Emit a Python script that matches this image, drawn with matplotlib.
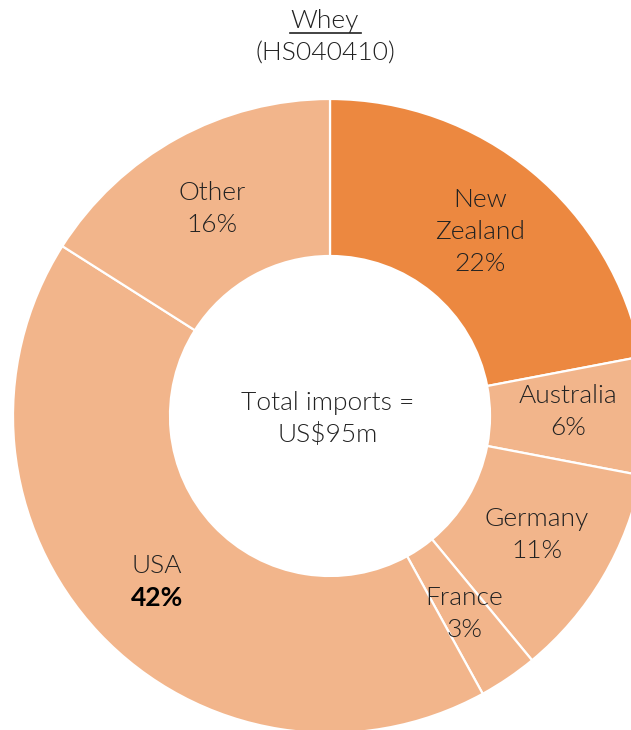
import matplotlib.pyplot as plt

# Whey import shares by origin, per cent of total
countries = ['New\nZealand', 'Australia', 'Germany', 'France', 'USA', 'Other']
shares = [22, 6, 11, 3, 42, 16]
total_imports = 95  # US$ million

dark = '#EC8840'
light = '#F2B58B'
colors = [dark] + [light] * (len(shares) - 1)

plt.rcParams['font.family'] = ['Lato', 'DejaVu Sans']
txt = '#222222'
fs = 19

fig = plt.figure(figsize=(6.31, 7.30), dpi=100)
ax = fig.add_axes([0, 0, 1, 1])

# work in pixel units so the ring sits where it should
cx, cy, r_out, r_in = 330, 730 - 416, 317, 160
ax.pie(shares, colors=colors, startangle=90, counterclock=False,
       center=(cx, cy), radius=r_out,
       wedgeprops=dict(width=r_out - r_in, edgecolor='white', linewidth=1.6))
ax.set_xlim(0, 631)
ax.set_ylim(0, 730)
ax.set_aspect('equal')
ax.axis('off')

def px(x, y, s, **kw):
    kw.setdefault('color', txt)
    kw.setdefault('fontsize', fs)
    kw.setdefault('fontweight', 300)
    ax.text(x, 730 - y, s, ha='center', va='center', linespacing=1.4, **kw)

# title
px(325, 21, 'Whey')
ax.plot([290, 361], [730 - 33, 730 - 33], color=txt, lw=1.2)
px(325, 54, '(HS040410)')

label_pos = [(480, 232), (568, 412), (537, 535), (464, 614), (157, 566), (212, 209)]
for name, val, (x, y) in zip(countries, shares, label_pos):
    if name == 'USA':
        px(x, y, name)
        px(x, y + 32, f'{val}%', fontweight='bold', color='black')
    else:
        px(x, y, f'{name}\n{val}%')

px(328, 419, f'Total imports =\nUS${total_imports}m')

fig.savefig('out.png', dpi=100)
